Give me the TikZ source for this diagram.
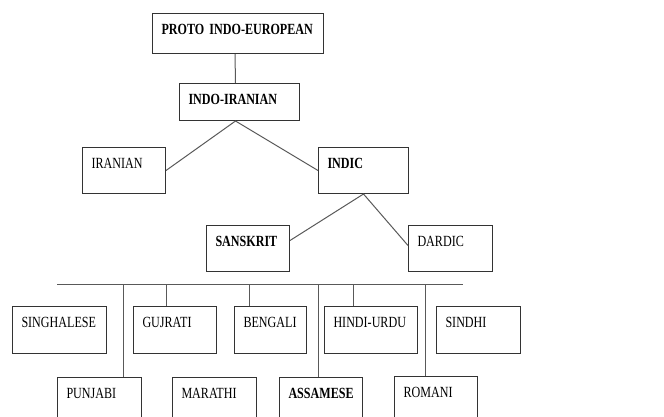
\documentclass[tikz,border=0pt]{standalone}
\usepackage{fontspec}
\setmainfont{Liberation Serif}[FakeStretch=0.78]
\tikzset{
box/.style 2 args={draw=black!80, line width=1pt, anchor=north west, inner xsep=9pt, inner ysep=0pt,
  text height=21pt, text width=#1, text depth=#2, align=left, font=\fontsize{15.5}{17}\selectfont},
link/.style={draw=black!65, line width=1pt}
}
\begin{document}
\begin{tikzpicture}[x=1pt,y=-1pt]
\path[use as bounding box, clip] (0,0) rectangle (664,416);
\node[box={153pt}{19pt}] (proto) at (152,13) {\textbf{PROTO INDO-EUROPEAN}};
\node[box={102pt}{16pt}] (indoir) at (179,83) {\textbf{INDO-IRANIAN}};
\node[box={65pt}{25pt}] (iranian) at (82,147) {IRANIAN};
\node[box={72pt}{25pt}] (indic) at (318,147) {\textbf{INDIC}};
\node[box={65pt}{25pt}] (sanskrit) at (206,225) {\textbf{SANSKRIT}};
\node[box={66pt}{25pt}] (dardic) at (408,225) {DARDIC};

\node[box={76pt}{26pt}] (singhalese) at (12,306) {SINGHALESE};
\node[box={65pt}{26pt}] (gujrati) at (133,306) {GUJRATI};
\node[box={54pt}{26pt}] (bengali) at (234,306) {BENGALI};
\node[box={75pt}{26pt}] (hindiurdu) at (324,306) {HINDI-URDU};
\node[box={66pt}{26pt}] (sindhi) at (436,306) {SINDHI};

\node[box={66pt}{30pt}] (punjabi) at (57,377) {PUNJABI};
\node[box={66pt}{30pt}] (marathi) at (172,377) {MARATHI};
\node[box={65pt}{30pt}] (assamese) at (279,377) {\textbf{ASSAMESE}};
\node[box={65pt}{30pt}] (romani) at (394,376) {ROMANI};

\draw[link] ([xshift=-3pt]proto.south) -- ([xshift=-4pt]indoir.north);
\draw[link] (iranian.east) -- ([xshift=-4pt]indoir.south) -- (indic.west);
\draw[link] ([yshift=8pt]sanskrit.east) -- (indic.south) -- ([yshift=3pt]dardic.west);

\coordinate (busl) at (57,284);
\coordinate (busr) at (463,284);
\draw[link] (busl) -- (busr);
\foreach \n/\s in {punjabi/24, gujrati/-8.5, bengali/-21, assamese/-2.5, hindiurdu/-17.5, romani/-10.5}{
\draw[link] ([xshift=\s pt]\n.north |- busl) -- ([xshift=\s pt]\n.north);
}
\end{tikzpicture}
\end{document}
